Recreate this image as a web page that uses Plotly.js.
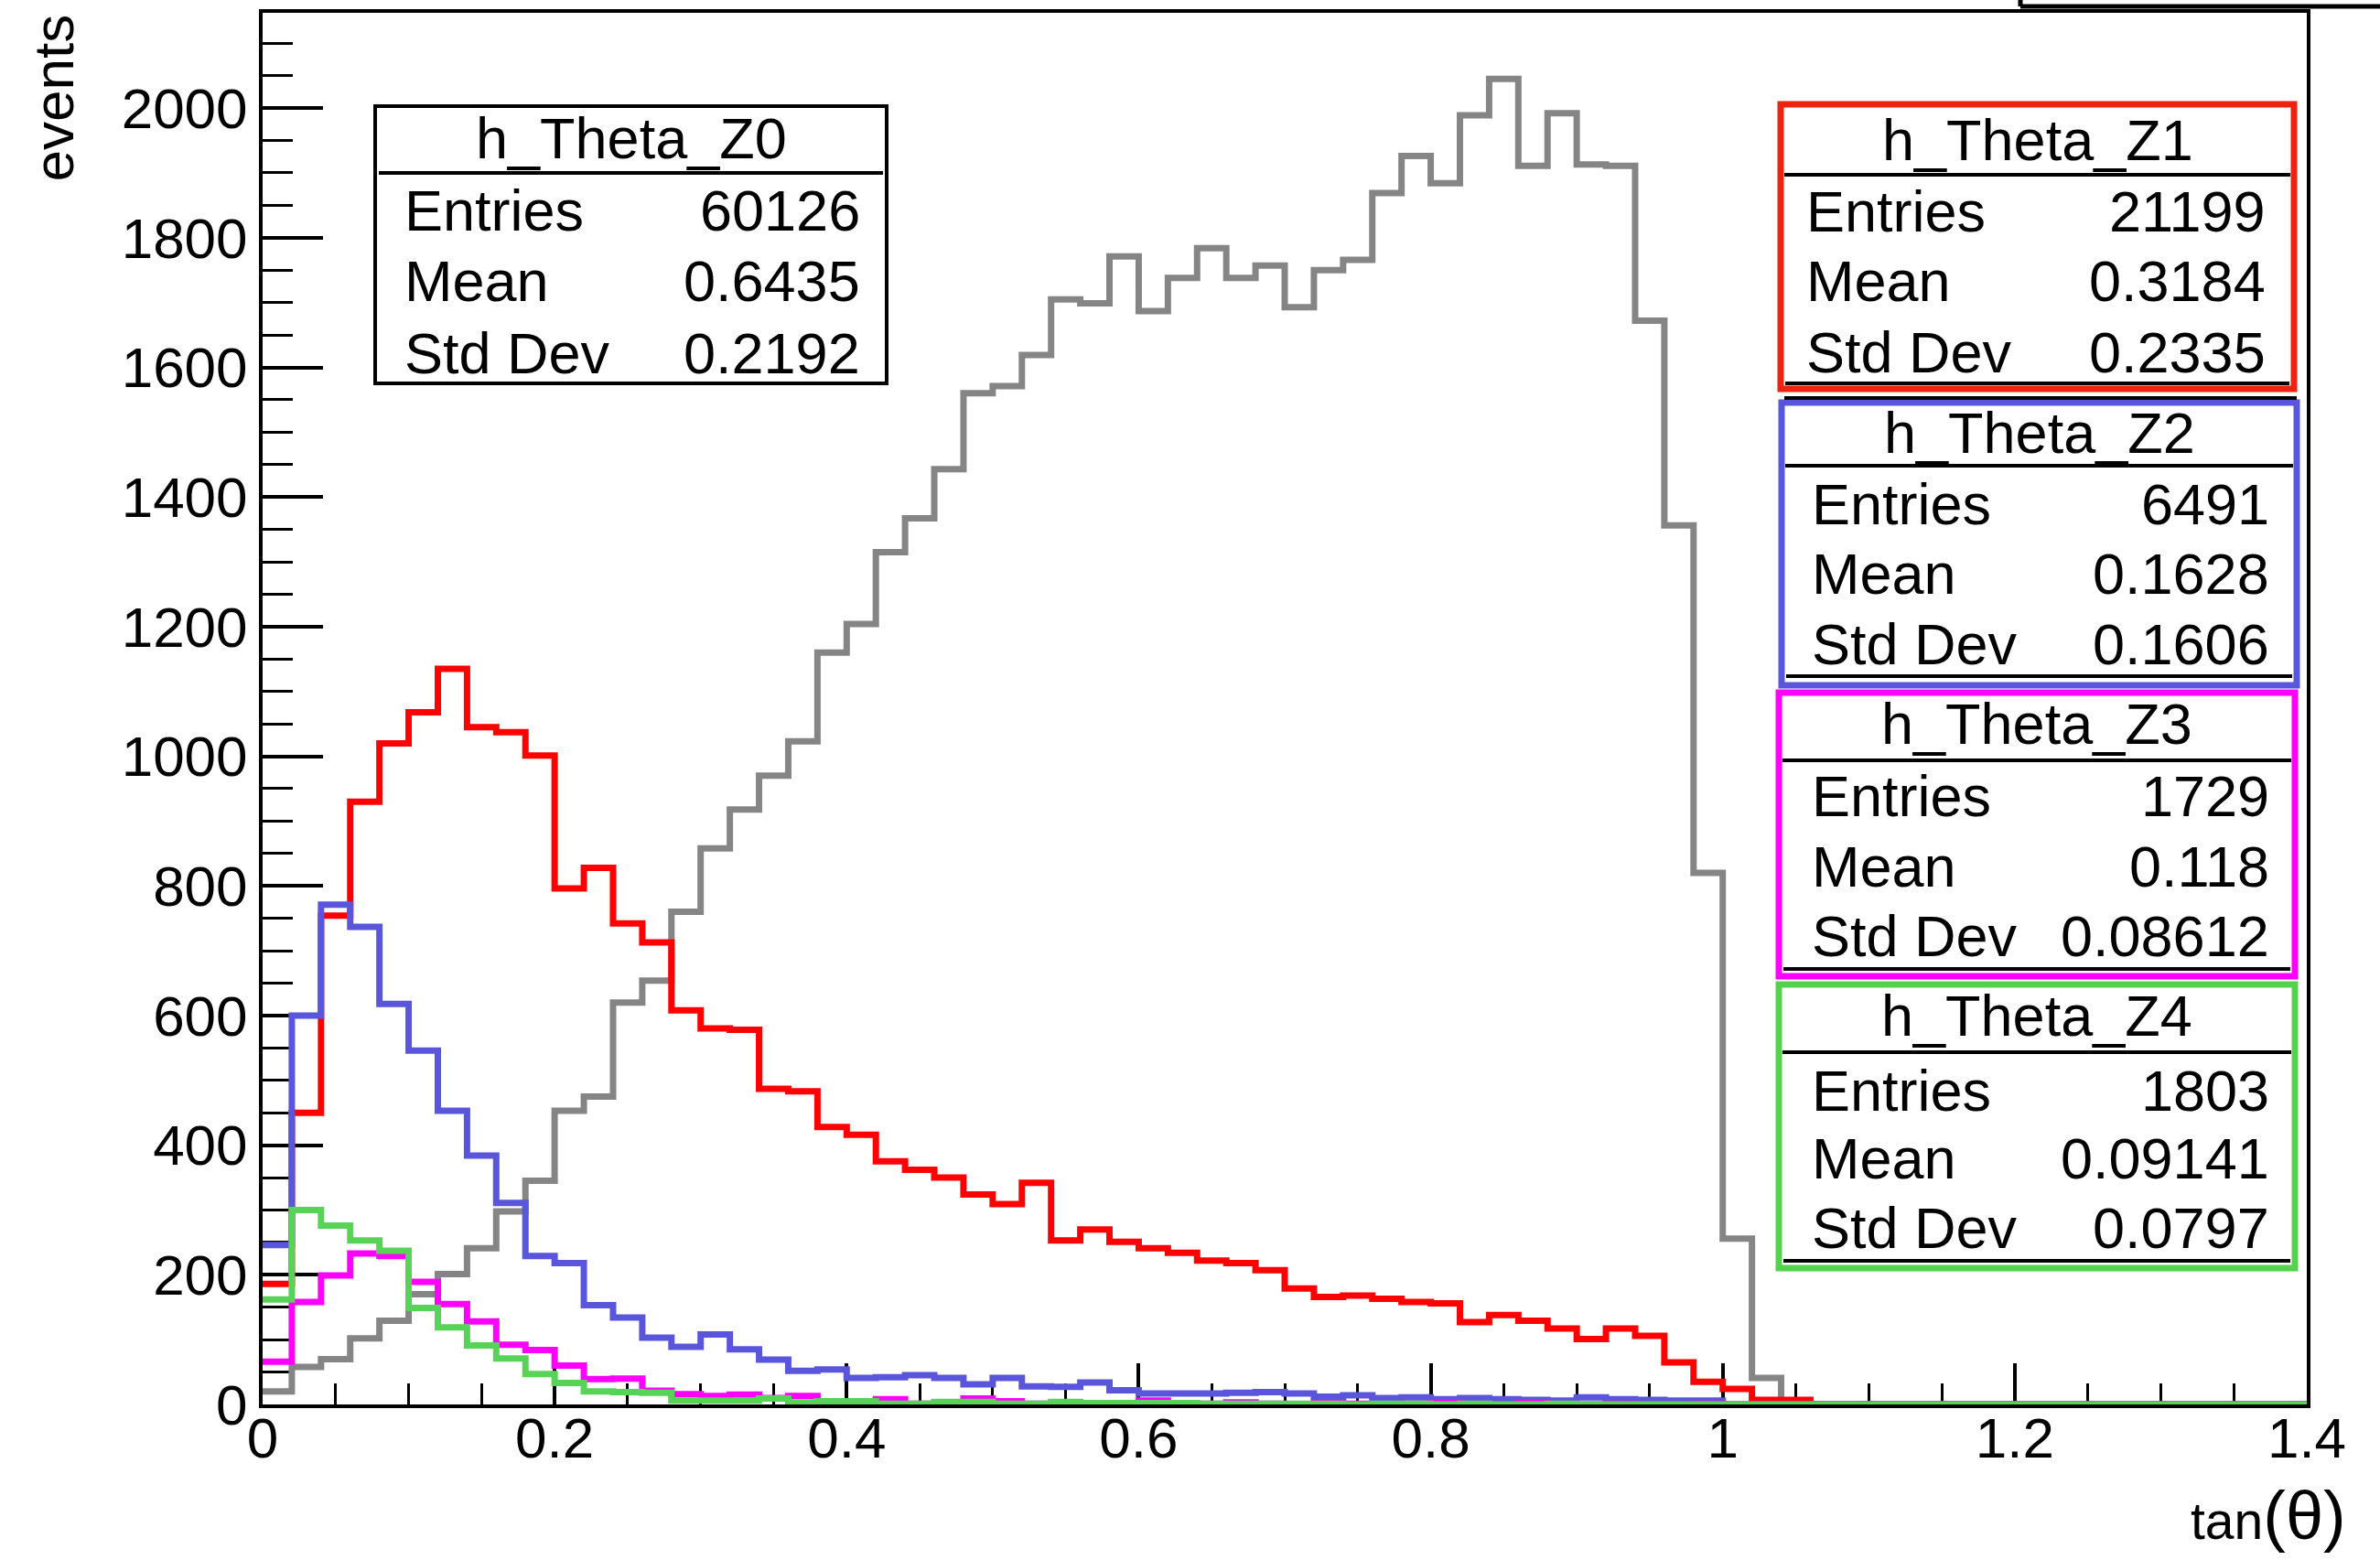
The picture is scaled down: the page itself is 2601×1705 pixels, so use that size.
<!DOCTYPE html>
<html>
<head>
<meta charset="utf-8">
<script src="https://cdn.plot.ly/plotly-3.0.1.min.js"></script>
<style>html,body{margin:0;padding:0;background:#fff;}#chart{width:2601px;height:1705px;}</style>
</head>
<body>
<div id="chart"></div>
<script>
// ---------------- data (bin contents, 70 bins of width 0.02 from 0 to 1.4) ----------------
const xMin = 0, binWidth = 0.02, nBins = 70;

const hZ0 = [20, 58, 70, 102, 129, 170, 201, 241, 298, 345,
             453, 475, 620, 654, 760, 858, 918, 970, 1023, 1160,
             1204, 1315, 1367, 1443, 1560, 1571, 1619, 1705, 1699, 1771,
             1687, 1738, 1784, 1738, 1757, 1693, 1750, 1766, 1869, 1926,
             1884, 1989, 2045, 1911, 1992, 1913, 1911, 1672, 1356, 820,
             256, 41, 0, 0, 0, 0, 0, 0, 0, 0,
             0, 0, 0, 0, 0, 0, 0, 0, 0, 0];

const hZ1 = [186, 450, 754, 930, 1020, 1068, 1135, 1045, 1037, 1001,
             796, 828, 742, 713, 608, 580, 578, 487, 483, 428,
             416, 375, 362, 350, 324, 309, 342, 253, 270, 251,
             241, 234, 222, 218, 207, 179, 166, 168, 163, 158,
             156, 127, 138, 129, 117, 101, 117, 106, 65, 35,
             24, 7, 7, 0, 0, 0, 0, 0, 0, 0,
             0, 0, 0, 0, 0, 0, 0, 0, 0, 0];

const hZ2 = [246, 600, 771, 737, 618, 546, 453, 384, 311, 229,
             218, 153, 134, 103, 89, 108, 85, 69, 52, 54,
             41, 42, 45, 41, 31, 41, 28, 27, 34, 22,
             17, 17, 17, 18, 19, 17, 12, 14, 10, 11,
             8, 10, 8, 7, 6, 11, 8, 7, 6, 6,
             0, 0, 0, 0, 0, 0, 0, 0, 0, 0,
             0, 0, 0, 0, 0, 0, 0, 0, 0, 0];

const hZ3 = [66, 158, 199, 233, 229, 189, 155, 128, 92, 84,
             60, 39, 40, 21, 16, 13, 15, 10, 13, 1,
             1, 8, 1, 1, 9, 5, 1, 1, 1, 1,
             6, 2, 1, 3, 1, 0, 2, 1, 0, 1,
             3, 1, 0, 2, 1, 0, 1, 0, 0, 1,
             0, 0, 0, 0, 0, 0, 0, 0, 0, 0,
             0, 0, 0, 0, 0, 0, 0, 0, 0, 0];

const hZ4 = [162, 300, 276, 253, 237, 149, 119, 91, 71, 47,
             33, 20, 19, 18, 6, 6, 6, 9, 3, 5,
             5, 1, 1, 4, 4, 1, 1, 4, 2, 2,
             2, 2, 1, 1, 1, 1, 1, 0, 1, 1,
             0, 1, 0, 0, 1, 0, 0, 0, 0, 0,
             0, 0, 0, 0, 0, 0, 0, 0, 0, 0,
             0, 0, 0, 0, 0, 0, 0, 0, 0, 0];

// stat box contents
const statNames   = ['h_Theta_Z0', 'h_Theta_Z1', 'h_Theta_Z2', 'h_Theta_Z3', 'h_Theta_Z4'];
const statEntries = ['60126', '21199', '6491', '1729', '1803'];
const statMeans   = ['0.6435', '0.3184', '0.1628', '0.118', '0.09141'];
const statStdDevs = ['0.2192', '0.2335', '0.1606', '0.08612', '0.0797'];
const statLabels  = ['Entries', 'Mean', 'Std Dev'];

const xTitleFn = 'tan';
const xTitleSym = 'θ';
const yTitle = 'events';

// ---------------- styling ----------------
const colors = ['#858585', '#ff0000', '#5a56dc', '#ff00ff', '#57d357'];
const boxColors = ['#000000', '#ee2211', '#5a56dc', '#ff00ff', '#55d24d'];
const FONT = 'Liberation Sans, Arial, Helvetica, sans-serif';

const W = 2601, H = 1705;
const L = 287, R = 2521, T = 14, B = 1535;
const px = x => (x - L) / (R - L);
const py = y => (B - y) / (B - T);

// bin edges
const edges = [];
for (let i = 0; i <= nBins; i++) edges.push(+(xMin + i * binWidth).toFixed(4));

const series = [hZ0, hZ1, hZ2, hZ3, hZ4];
const traces = series.map((h, k) => ({
  type: 'scatter', mode: 'lines',
  x: edges,
  y: h.concat([h[h.length - 1]]),
  line: {shape: 'hv', color: colors[k], width: 7},
  hoverinfo: 'skip', showlegend: false
}));

// stat box geometry (pixels)
const boxes = [
  {l: 410,  r: 969,  t: 116, b: 419, div: 189, title: 151, rows: [230, 307, 386], lx: 440,  vx: 942,  framed: false},
  {l: 1946, r: 2507, t: 114, b: 425, div: 191, title: 153, rows: [231, 307, 385], lx: 1972, vx: 2478, inner: 419, framed: true},
  {l: 1947, r: 2510, t: 440, b: 749, div: 509, title: 473, rows: [551, 627, 704], lx: 1978, vx: 2482, inner: 739, topBlack: 435, framed: true},
  {l: 1944, r: 2508, t: 757, b: 1067, div: 831, title: 791, rows: [870, 947, 1023], lx: 1978, vx: 2482, inner: 1059, framed: true},
  {l: 1944, r: 2508, t: 1076, b: 1386, div: 1150, title: 1110, rows: [1192, 1266, 1342], lx: 1978, vx: 2482, inner: 1378, framed: true}
];

const shapes = [];
const annotations = [];
const pline = (x0, y0, x1, y1, color, width) => ({type: 'line', xref: 'paper', yref: 'paper',
  x0: px(x0), x1: px(x1), y0: py(y0), y1: py(y1), line: {color: color, width: width}});

boxes.forEach((bx, k) => {
  if (!bx.framed) {
    shapes.push({type: 'rect', xref: 'paper', yref: 'paper', x0: px(bx.l), x1: px(bx.r), y0: py(bx.b), y1: py(bx.t),
      line: {color: '#000', width: 4}, fillcolor: '#fff'});
  } else {
    shapes.push({type: 'rect', xref: 'paper', yref: 'paper', x0: px(bx.l), x1: px(bx.r), y0: py(bx.b), y1: py(bx.t),
      line: {color: boxColors[k], width: 7}, fillcolor: '#fff'});
    shapes.push(pline(bx.l + 5, bx.inner, bx.r - 5, bx.inner, '#000', 4));
    if (bx.topBlack) shapes.push(pline(bx.l + 3, bx.topBlack, bx.r, bx.topBlack, '#000', 4));
  }
  shapes.push(pline(bx.l + 4, bx.div, bx.r - 4, bx.div, '#000', 4));
  const tf = {family: FONT, size: 63, color: '#000'};
  annotations.push({xref: 'paper', yref: 'paper', x: px((bx.l + bx.r) / 2), y: py(bx.title),
    xanchor: 'center', yanchor: 'middle', text: statNames[k], showarrow: false, font: tf});
  const vals = [statEntries[k], statMeans[k], statStdDevs[k]];
  statLabels.forEach((lab, j) => {
    annotations.push({xref: 'paper', yref: 'paper', x: px(bx.lx), y: py(bx.rows[j]),
      xanchor: 'left', yanchor: 'middle', text: lab, showarrow: false, font: tf});
    annotations.push({xref: 'paper', yref: 'paper', x: px(bx.vx), y: py(bx.rows[j]),
      xanchor: 'right', yanchor: 'middle', text: vals[j], showarrow: false, font: tf});
  });
});

// partially visible title box at the top right
shapes.push(pline(2208, 0, 2208, 7, '#000', 5));
shapes.push(pline(2208, 7, 2601, 7, '#000', 5));

// axis titles
annotations.push({xref: 'paper', yref: 'paper', x: px(58), y: py(14), xanchor: 'center', yanchor: 'top',
  textangle: -90, text: yTitle, showarrow: false, font: {family: FONT, size: 62, color: '#000'}});
annotations.push({xref: 'paper', yref: 'paper', x: px(2566), y: py(1700), xanchor: 'right', yanchor: 'bottom',
  text: xTitleFn + '<span style="font-size:74px">(' + xTitleSym + ')</span>', showarrow: false,
  font: {family: FONT, size: 57, color: '#000'}});

const layout = {
  width: W, height: H,
  margin: {l: L, r: W - R, t: T, b: H - B, pad: 0},
  paper_bgcolor: '#fff', plot_bgcolor: '#fff',
  showlegend: false,
  xaxis: {
    range: [0, 1.4], tickmode: 'linear', tick0: 0, dtick: 0.2,
    ticks: 'inside', ticklen: 45, tickwidth: 4, tickcolor: '#000',
    minor: {dtick: 0.05, ticks: 'inside', ticklen: 23, tickwidth: 3, tickcolor: '#000', showgrid: false},
    showline: true, linecolor: '#000', linewidth: 4, mirror: true,
    showgrid: false, zeroline: false, layer: 'below traces',
    tickfont: {family: FONT, size: 62, color: '#000'}, ticklabelstandoff: -20
  },
  yaxis: {
    range: [0, 2147], tickmode: 'linear', tick0: 0, dtick: 200,
    ticks: 'inside', ticklen: 66, tickwidth: 4, tickcolor: '#000',
    minor: {dtick: 50, ticks: 'inside', ticklen: 33, tickwidth: 3, tickcolor: '#000', showgrid: false},
    showline: true, linecolor: '#000', linewidth: 4, mirror: true,
    showgrid: false, zeroline: false, layer: 'below traces',
    tickfont: {family: FONT, size: 62, color: '#000'}, ticklabelstandoff: 0
  },
  shapes: shapes,
  annotations: annotations
};

Plotly.newPlot('chart', traces, layout, {staticPlot: true, displayModeBar: false});
</script>
</body>
</html>
